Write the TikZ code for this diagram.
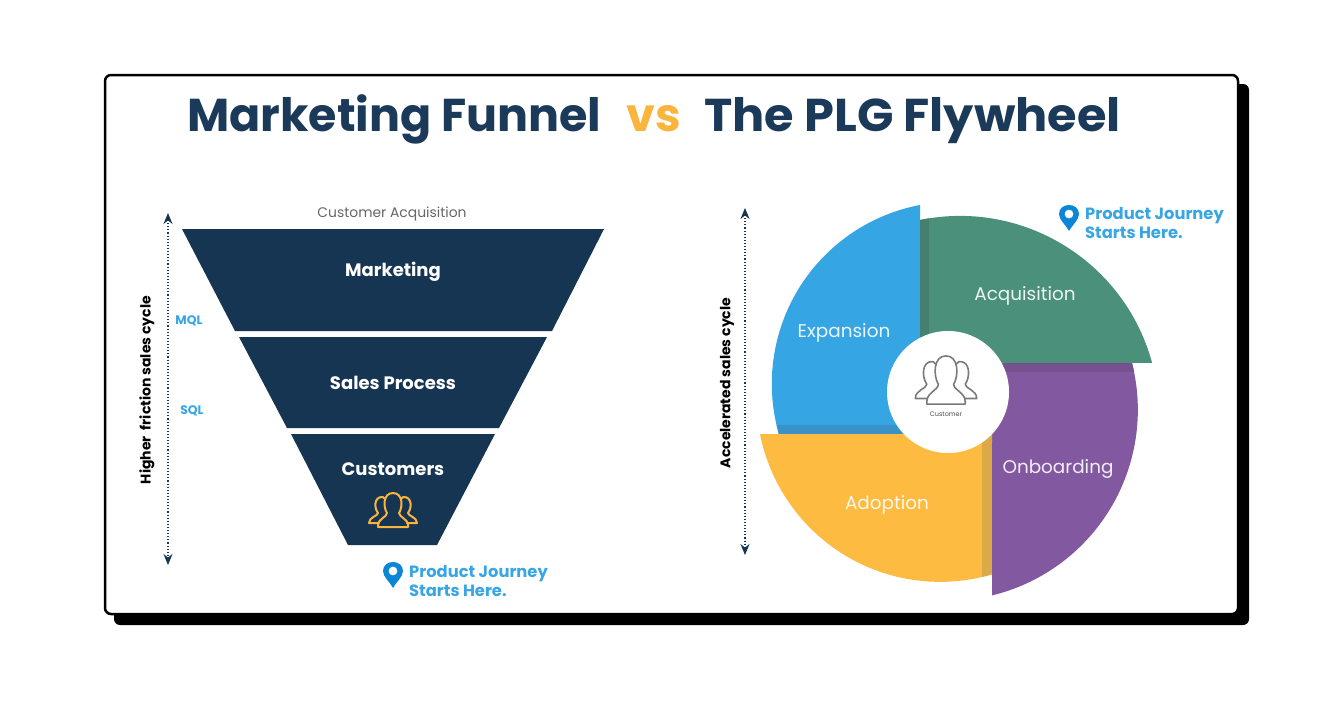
\documentclass[tikz,border=0pt]{standalone}
\usepackage{fontspec}
\setmainfont{Poppins}
\usetikzlibrary{arrows.meta}
\definecolor{navy}{HTML}{163552}
\definecolor{titlenavy}{HTML}{1B3A5A}
\definecolor{vsorange}{HTML}{FBB53C}
\definecolor{skyblue}{HTML}{38A6E4}
\definecolor{pinblue}{HTML}{0C86D6}
\definecolor{expblue}{HTML}{36A5E3}
\definecolor{expdark}{HTML}{3A93C8}
\definecolor{acqgreen}{HTML}{4A907A}
\definecolor{acqdark}{HTML}{44806D}
\definecolor{onbpurple}{HTML}{8258A0}
\definecolor{onbdark}{HTML}{75528F}
\definecolor{adoyellow}{HTML}{FDBB42}
\definecolor{adodark}{HTML}{DBA947}
\definecolor{icongrey}{HTML}{7A7A7A}
\begin{document}
\begin{tikzpicture}[x=1pt,y=-1pt]
    % Define styles
    \tikzset{
        funnel/.style={fill=navy},
        funnellabel/.style={font=\fontsize{18}{20}\selectfont\bfseries, text=white},
        wheellabel/.style={font=\fontsize{18.4}{20}\selectfont, text=white, opacity=0.9},
        titletext/.style={font=\fontsize{46}{48}\selectfont\bfseries, anchor=base west, inner sep=0pt},
        sidelabel/.style={font=\fontsize{14}{16}\selectfont\bfseries, text=black, rotate=90},
        stagelabel/.style={font=\fontsize{12.4}{14}\selectfont\bfseries, text=skyblue},
        journey/.style={font=\fontsize{16.3}{19}\selectfont\bfseries, text=skyblue, align=left, anchor=west, inner sep=0pt},
        cycle arrow/.style={{Stealth[length=11pt,width=9pt]}-{Stealth[length=11pt,width=9pt]}, dotted, line width=1.1, navy},
        pics/pin/.style={code={
            \fill[pinblue, even odd rule] (0,13) .. controls (-3,7) and (-10,2) .. (-10,-4) .. controls (-10,-10) and (-5,-13) .. (0,-13) .. controls (5,-13) and (10,-10) .. (10,-4) .. controls (10,2) and (3,7) .. (0,13) -- cycle (0,-4) circle[radius=4.5];
        }},
        pics/people/.style={code={
            \draw[pic actions, line join=round] (-15,15) .. controls (-15,9) and (-6,7) .. (-6,3) .. controls (-10,-3) and (-10,-17) .. (0,-17) .. controls (10,-17) and (10,-3) .. (6,3) .. controls (6,7) and (15,9) .. (15,15) -- (15,17) -- (-15,17) -- cycle;
            \draw[pic actions, line join=round] (-15,13) -- (-24,13) .. controls (-24,7) and (-15,6) .. (-15,3) .. controls (-19,-2) and (-19,-13) .. (-11,-13) .. controls (-10,-13) .. (-8,-11);
            \draw[pic actions, line join=round] (15,13) -- (24,13) .. controls (24,7) and (15,6) .. (15,3) .. controls (19,-2) and (19,-13) .. (11,-13) .. controls (10,-13) .. (8,-11);
        }}
    }
    \useasboundingbox (0,0) rectangle (1344,723);
    % Card and its shadow
    \fill[black, rounded corners=6] (114,84) rectangle (1249,625);
    \draw[black, fill=white, line width=2.5, rounded corners=6] (105,75) rectangle (1238,614);
    % Title
    \node[titletext, text=titlenavy] (titleleft) at (187,131) {Marketing Funnel};
    \node[titletext, text=vsorange] (titlevs) at (626,131) {vs};
    \node[titletext, text=titlenavy, xscale=1.04] (titleright) at (704,131) {The PLG Flywheel};
    % Funnel
    \fill[funnel] (182,229) -- (604,229) -- (552,331) -- (235,331) -- cycle;
    \fill[funnel] (239,337) -- (547,337) -- (499,428) -- (287,428) -- cycle;
    \fill[funnel] (291,434) -- (495,434) -- (437,545) -- (348,545) -- cycle;
    \node[funnellabel] (marketing) at (393,272) {Marketing};
    \node[funnellabel] (sales) at (393,383) {Sales Process};
    \node[funnellabel] (customers) at (393,469) {Customers};
    \pic[draw=vsorange, line width=2] at (393,510) {people};
    \node[font=\fontsize{13.9}{16}\selectfont, text=black!60] (acquisition) at (392,214) {Customer Acquisition};
    \node[stagelabel] (mql) at (189,321) {MQL};
    \node[stagelabel] (sql) at (192,411) {SQL};
    % Left arrow
    \coordinate (lefttop) at (168,213);
    \coordinate (leftbottom) at (168,565);
    \draw[cycle arrow] (lefttop) -- (leftbottom);
    \node[sidelabel] (friction) at (147,390) {Higher\ \ friction sales cycle};
    \pic at (393,575) {pin};
    \node[journey] (journeyleft) at (409,581) {Product Journey\\Starts Here.};
    % Flywheel
    \def\expansionpath{(920,205) arc[start angle=-100.7, end angle=-196.1, radius=182] -- (920,434) -- cycle}
    \def\acquisitionpath{(920,220) arc[start angle=-101.6, end angle=-15.2, radius=199] -- (920,363) -- cycle}
    \def\onboardingpath{(1132,363) arc[start angle=-14.2, end angle=76.3, radius=191] -- (992,363) -- cycle}
    \def\adoptionpath{(760,434) arc[start angle=-191.2, end angle=-286.4, radius=183.5] -- (992,434) -- cycle}
    \fill[expblue] \expansionpath;
    \begin{scope}
        \clip \expansionpath;
        \fill[expdark] (770,425) rectangle (920,434);
    \end{scope}
    \fill[acqgreen] \acquisitionpath;
    \begin{scope}
        \clip \acquisitionpath;
        \fill[acqdark] (920,215) rectangle (929,363);
    \end{scope}
    \fill[onbpurple] \onboardingpath;
    \begin{scope}
        \clip \onboardingpath;
        \fill[onbdark] (992,363) rectangle (1140,372);
    \end{scope}
    \fill[adoyellow] \adoptionpath;
    \begin{scope}
        \clip \adoptionpath;
        \fill[adodark] (982,434) rectangle (992,580);
    \end{scope}
    \node[fill=white, circle, minimum size=122, inner sep=0pt] (hub) at (948,392) {};
    \pic[draw=icongrey, line width=1.6, xscale=1.28, yscale=1.42] at (946,380) {people};
    \node[font=\fontsize{6.5}{7}\selectfont, text=black!70] (customer) at (946,414) {Customer};
    \node[wheellabel] (expansion) at (844,333) {Expansion};
    \node[wheellabel] (acq) at (1025,296) {Acquisition};
    \node[wheellabel] (onboarding) at (1058,469) {Onboarding};
    \node[wheellabel] (adoption) at (887,505) {Adoption};
    % Right arrow
    \coordinate (righttop) at (745,208);
    \coordinate (rightbottom) at (745,555);
    \draw[cycle arrow] (righttop) -- (rightbottom);
    \node[sidelabel] (accelerated) at (727,383) {Accelerated sales cycle};
    \pic at (1069,218) {pin};
    \node[journey] (journeyright) at (1085,223) {Product Journey\\Starts Here.};
\end{tikzpicture}
\end{document}
